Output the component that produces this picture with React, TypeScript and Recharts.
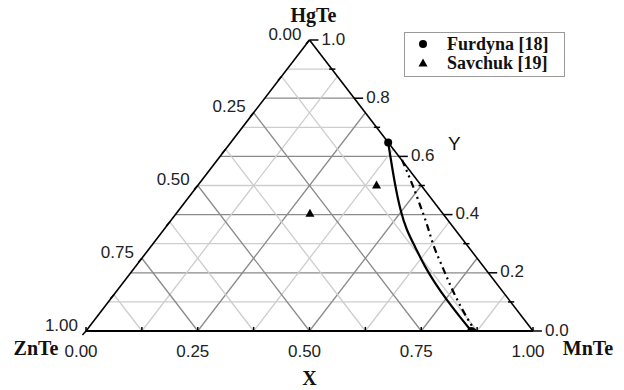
import React from "react";
import {
  ComposedChart,
  XAxis,
  YAxis,
  Line,
  Scatter,
  ReferenceLine,
  ReferenceDot,
} from "recharts";

// composition points (u = X along the base, v = Y height)
const furdyna = [
  { u: 0.676, v: 0.648 },
  { u: 0.862, v: 0.0 },
];
const savchuk = [
  { u: 0.65, v: 0.502 },
  { u: 0.501, v: 0.405 },
];
// solid boundary (Furdyna)
const solidBoundary = [
  { u: 0.676, v: 0.648 },
  { u: 0.691, v: 0.502 },
  { u: 0.704, v: 0.41 },
  { u: 0.717, v: 0.347 },
  { u: 0.736, v: 0.29 },
  { u: 0.758, v: 0.221 },
  { u: 0.781, v: 0.164 },
  { u: 0.807, v: 0.107 },
  { u: 0.833, v: 0.055 },
  { u: 0.862, v: 0.0 },
];
// dash-dot boundary
const dashBoundary = [
  { u: 0.707, v: 0.588 },
  { u: 0.731, v: 0.502 },
  { u: 0.747, v: 0.433 },
  { u: 0.764, v: 0.364 },
  { u: 0.777, v: 0.29 },
  { u: 0.799, v: 0.216 },
  { u: 0.817, v: 0.148 },
  { u: 0.842, v: 0.072 },
  { u: 0.864, v: 0.015 },
  { u: 0.872, v: 0.0 },
];

const xLabels = [0, 0.25, 0.5, 0.75, 1];
const yLabels = [0, 0.2, 0.4, 0.6, 0.8, 1];
const leftLabels = [0, 0.25, 0.5, 0.75, 1];

const W = 624;
const H = 390;

const sans = { fontFamily: "'Liberation Sans', Arial, sans-serif", fontSize: 17, fill: "#222" };
const serifBold = { fontFamily: "'Liberation Serif', 'Times New Roman', serif", fontSize: 20, fontWeight: 700, fill: "#111" };

const DARK = "#8a8a8a";
const LIGHT = "#cdcdcd";

type Seg = { a: { x: number; y: number }; b: { x: number; y: number }; stroke: string; w: number };

function gridSegments(): Seg[] {
  const out: Seg[] = [];
  // horizontal lines every 0.1
  for (let k = 1; k < 10; k++) {
    const v = k / 10;
    out.push({ a: { x: v / 2, y: v }, b: { x: 1 - v / 2, y: v }, stroke: k % 2 === 0 ? DARK : LIGHT, w: 1.3 });
  }
  // diagonals from base every 0.125
  for (let k = 1; k < 8; k++) {
    const a = k / 8;
    const stroke = k % 2 === 0 ? DARK : LIGHT;
    out.push({ a: { x: a, y: 0 }, b: { x: (1 + a) / 2, y: 1 - a }, stroke, w: 1.3 });
    out.push({ a: { x: a, y: 0 }, b: { x: a / 2, y: a }, stroke, w: 1.3 });
  }
  return out;
}

function tickSegments(): Seg[] {
  const out: Seg[] = [];
  for (let k = 0; k <= 8; k++) {
    const u = k / 8;
    out.push({ a: { x: u, y: 0 }, b: { x: u, y: 0.014 }, stroke: "#000", w: 1.5 });
    const v = k / 8;
    out.push({ a: { x: v / 2, y: v }, b: { x: v / 2 - 0.008, y: v - 0.014 }, stroke: "#000", w: 1.5 });
  }
  for (let k = 0; k <= 10; k++) {
    const v = k / 10;
    const e = 1 - v / 2;
    if (k % 2 === 0) out.push({ a: { x: e, y: v }, b: { x: e + 0.02, y: v }, stroke: "#000", w: 1.5 });
    else out.push({ a: { x: e - 0.006, y: v }, b: { x: e + 0.008, y: v }, stroke: "#000", w: 1.5 });
  }
  return out;
}

const edges: Seg[] = [
  { a: { x: 0, y: 0 }, b: { x: 1, y: 0 }, stroke: "#000", w: 1.8 },
  { a: { x: 0, y: 0 }, b: { x: 0.5, y: 1 }, stroke: "#000", w: 1.6 },
  { a: { x: 1, y: 0 }, b: { x: 0.5, y: 1 }, stroke: "#000", w: 1.6 },
];

const textAt = (value: string, dx: number, dy: number, anchor: "start" | "middle" | "end", style: any) =>
  (p: any) => (
    <text
      x={p.cx + dx}
      y={p.cy + dy}
      textAnchor={anchor}
      dominantBaseline="central"
      style={style}
    >
      {value}
    </text>
  );

const Circle = (p: any) => <circle cx={p.cx} cy={p.cy} r={4} fill="#000" />;
const Tri = (p: any) => (
  <polygon points={`${p.cx},${p.cy - 4.5} ${p.cx - 4.5},${p.cy + 3.5} ${p.cx + 4.5},${p.cy + 3.5}`} fill="#000" />
);

export default function App() {
  const segs = [...gridSegments(), ...edges, ...tickSegments()];
  return (
    <div style={{ position: "absolute", left: 0, top: 0, width: W, height: H, background: "#fff" }}>
      <ComposedChart width={W} height={H} margin={{ top: 40, right: 91, bottom: 59, left: 86 }}>
        <XAxis type="number" dataKey="u" domain={[0, 1]} hide allowDataOverflow />
        <YAxis type="number" dataKey="v" domain={[0, 1]} hide allowDataOverflow />
        {segs.map((s, i) => (
          <ReferenceLine
            key={i}
            segment={[s.a, s.b]}
            stroke={s.stroke}
            strokeWidth={s.w}
            ifOverflow="visible"
          />
        ))}
        <Line
          data={solidBoundary}
          dataKey="v"
          type="basis"
          stroke="#000"
          strokeWidth={2.2}
          dot={false}
          isAnimationActive={false}
        />
        <Line
          data={dashBoundary}
          dataKey="v"
          type="basis"
          stroke="#000"
          strokeWidth={2.2}
          strokeDasharray="7 4 2 4 2 4"
          dot={false}
          isAnimationActive={false}
        />
        <Scatter data={furdyna} dataKey="v" shape={Circle} isAnimationActive={false} />
        <Scatter data={savchuk} dataKey="v" shape={Tri} isAnimationActive={false} />
        {xLabels.map((u) => (
          <ReferenceDot
            key={"x" + u}
            x={u}
            y={0}
            r={0}
            ifOverflow="visible"
            shape={textAt(u.toFixed(2), -5, 20, "middle", sans)}
          />
        ))}
        {yLabels.map((v) => (
          <ReferenceDot
            key={"y" + v}
            x={1 - v / 2}
            y={v}
            r={0}
            ifOverflow="visible"
            shape={textAt(v.toFixed(1), 12, -1, "start", sans)}
          />
        ))}
        {leftLabels.map((v) => (
          <ReferenceDot
            key={"l" + v}
            x={v / 2}
            y={v}
            r={0}
            ifOverflow="visible"
            shape={textAt((1 - v).toFixed(2), -8, -6, "end", sans)}
          />
        ))}
        <ReferenceDot x={0.5} y={1} r={0} ifOverflow="visible" shape={textAt("HgTe", 4, -25, "middle", serifBold)} />
        <ReferenceDot x={0} y={0} r={0} ifOverflow="visible" shape={textAt("ZnTe", -50, 17, "middle", serifBold)} />
        <ReferenceDot x={1} y={0} r={0} ifOverflow="visible" shape={textAt("MnTe", 55, 17, "middle", serifBold)} />
        <ReferenceDot x={0.5} y={0} r={0} ifOverflow="visible" shape={textAt("X", 0, 47, "middle", serifBold)} />
        <ReferenceDot
          x={0.75}
          y={0.5}
          r={0}
          ifOverflow="visible"
          shape={textAt("Y", 33, -42, "middle", { ...sans, fontSize: 19, fill: "#111" })}
        />
      </ComposedChart>
      <div
        style={{
          position: "absolute",
          left: 404,
          top: 32,
          width: 159,
          height: 43,
          border: "1px solid #999",
          fontFamily: "'Liberation Serif', 'Times New Roman', serif",
          fontWeight: 700,
          fontSize: 18,
          color: "#111",
        }}
      >
        <svg width={20} height={43} style={{ position: "absolute", left: 8, top: 0 }}>
          <circle cx={10} cy={11} r={4} fill="#000" />
          <polygon points="10,25.5 5.5,33.5 14.5,33.5" fill="#000" />
        </svg>
        <div style={{ position: "absolute", left: 42, top: 1, lineHeight: "20px", whiteSpace: "nowrap" }}>Furdyna [18]</div>
        <div style={{ position: "absolute", left: 42, top: 20, lineHeight: "20px", whiteSpace: "nowrap" }}>Savchuk [19]</div>
      </div>
    </div>
  );
}
